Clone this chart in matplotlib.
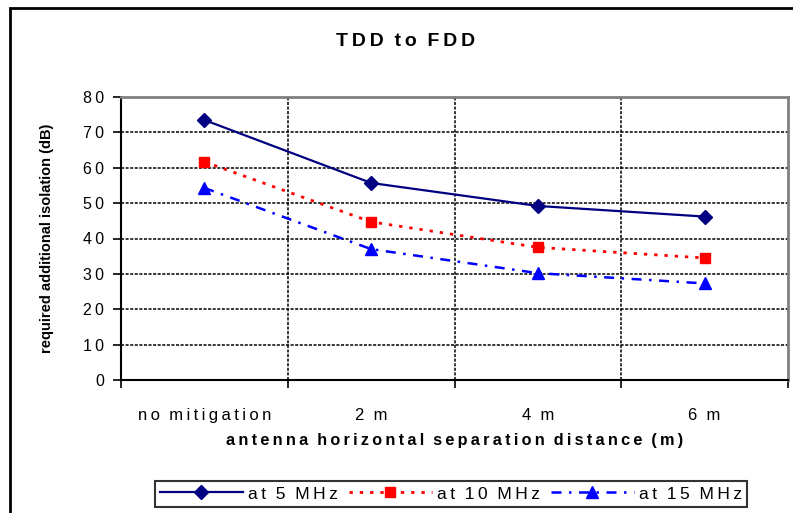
import matplotlib
matplotlib.use("Agg")
import matplotlib.pyplot as plt
from matplotlib.patches import Rectangle

plt.rcParams['font.family'] = ['Liberation Sans', 'DejaVu Sans']

# data
categories = ["no mitigation", "2 m", "4 m", "6 m"]
at_5mhz = [73.5, 55.7, 49.2, 46.2]
at_10mhz = [61.7, 44.7, 37.5, 34.5]
at_15mhz = [54.3, 37.0, 30.2, 27.3]
y_ticks = [0, 10, 20, 30, 40, 50, 60, 70, 80]


def spaced(s):
	# Excel-like expanded character spacing
	return "\u2009".join(s).replace("\u2009 \u2009", "  ")


fig = plt.figure(figsize=(7.93, 5.13), dpi=100)
fig.patch.set_facecolor("white")

# chart border (cropped on the right and bottom)
fig.patches.append(Rectangle((10/793, -0.1), 1.2, 1 - 8/513 + 0.1,
	transform=fig.transFigure, fill=False, edgecolor="black", linewidth=2))

ax = fig.add_axes([121/793, 1 - 380/513, (788 - 121)/793, (380 - 97)/513])

x = list(range(len(categories)))
ax.plot(x, at_5mhz, color="#000080", linestyle="-", linewidth=1.6,
	marker="D", markersize=7, label="at 5 MHz")
ax.plot(x, at_10mhz, color="#FF0000", linestyle=(0, (1.2, 2.5)), linewidth=2,
	marker="s", markersize=7, label="at 10 MHz")
ax.plot(x, at_15mhz, color="#0000FF", linestyle=(0, (4, 3, 1, 3)), linewidth=1.8,
	marker="^", markersize=8, label="at 15 MHz")

ax.set_xlim(-0.5, len(categories) - 0.5)
ax.set_ylim(0, 80)

# y axis
ax.set_yticks(y_ticks)
ax.set_yticklabels([spaced(str(v)) for v in y_ticks], fontsize=11.5)
for v in y_ticks[1:-1]:
	ax.axhline(v, color="black", linestyle=(0, (2, 1)), linewidth=1.1, zorder=0)

# x axis: ticks at category boundaries, labels at centres
bounds = [i - 0.5 for i in range(len(categories) + 1)]
ax.set_xticks(bounds)
ax.set_xticklabels([])
ax.set_xticks(x, minor=True)
ax.set_xticklabels([spaced(c) for c in categories], minor=True, fontsize=12)
ax.tick_params(axis="x", which="minor", length=0, pad=20)
ax.tick_params(axis="x", which="major", length=6, width=1.2, direction="out")
ax.tick_params(axis="y", length=6, width=1.2, direction="out", pad=6)
for b in bounds[1:-1]:
	ax.axvline(b, color="black", linestyle=(0, (2, 1)), linewidth=1.1, zorder=0)

ax.spines["left"].set_linewidth(1.5)
ax.spines["bottom"].set_linewidth(1.5)
ax.spines["top"].set_color("#808080")
ax.spines["right"].set_color("#808080")
ax.spines["top"].set_linewidth(2)
ax.spines["right"].set_linewidth(2)

fig.text(406/793, 1 - 42/513, spaced("TDD to FDD"), ha="center", va="center",
	fontsize=14, fontweight="bold")
fig.text(47/793, 1 - 238/513, "required additional isolation (dB)", rotation=90,
	ha="center", va="center", fontsize=10.5, fontweight="bold")
fig.text(455/793, 1 - 440/513, spaced("antenna horizontal separation distance (m)"),
	ha="center", va="center", fontsize=11.7, fontweight="bold")

leg = fig.legend(loc="center", bbox_to_anchor=(451/793, 1 - 494/513), ncol=3,
	frameon=True, fancybox=False, fontsize=12.5, handlelength=4.8,
	columnspacing=0.6, handletextpad=0.3, borderpad=0.3)
leg.get_frame().set_edgecolor("black")
leg.get_frame().set_linewidth(1.5)
for t in leg.get_texts():
	t.set_text(spaced(t.get_text()))

fig.savefig("out.png", dpi=100)
